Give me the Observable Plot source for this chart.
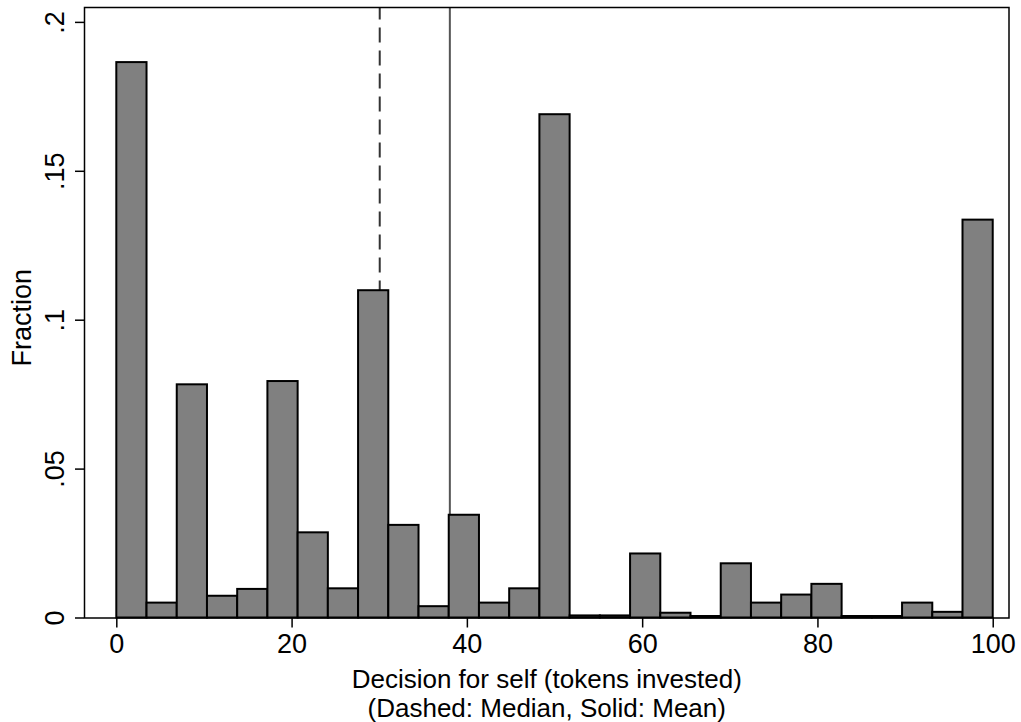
<!DOCTYPE html>
<html>
<head>
<meta charset="utf-8">
<script src="https://cdn.jsdelivr.net/npm/d3@7"></script>
<script src="https://cdn.jsdelivr.net/npm/@observablehq/plot@0.6"></script>
<style>
  html, body { margin: 0; padding: 0; background: #fff; }
  #chart svg { display: block; }
</style>
</head>
<body>
<div id="chart"></div>
<script>
// Histogram bin edges (tokens invested) and the fraction in each bin
const binEdges = [0, 3.448, 6.897, 10.345, 13.793, 17.241, 20.69, 24.138, 27.586, 31.034,
  34.483, 37.931, 41.379, 44.828, 48.276, 51.724, 55.172, 58.621, 62.069, 65.517,
  68.966, 72.414, 75.862, 79.31, 82.759, 86.207, 89.655, 93.103, 96.552, 100];
const fractions = [0.1865, 0.0050, 0.0783, 0.0073, 0.0096, 0.0794, 0.0286, 0.0098, 0.1099, 0.0311,
  0.0038, 0.0345, 0.0050, 0.0098, 0.1690, 0.0007, 0.0007, 0.0215, 0.0016, 0.0005,
  0.0182, 0.0050, 0.0077, 0.0113, 0.0005, 0.0005, 0.0050, 0.0019, 0.1336];
const medianValue = 30;
const meanValue = 38;
const xTicks = [0, 20, 40, 60, 80, 100];
const yTicks = [0, 0.05, 0.1, 0.15, 0.2];
const yTickLabels = ["0", ".05", ".1", ".15", ".2"];
const xTitle = "Decision for self (tokens invested)";
const xSubtitle = "(Dashed: Median, Solid: Mean)";
const yTitle = "Fraction";

const bins = fractions.map((f, i) => ({x1: binEdges[i], x2: binEdges[i + 1], fraction: f}));
const yLabelData = yTicks.map((v, i) => ({y: v, label: yTickLabels[i]}));

const font = "'Liberation Sans', Arial, Helvetica, sans-serif";
const fs = 27;

const chart = Plot.plot({
  width: 1021,
  height: 722,
  marginLeft: 84,
  marginRight: 12.5,
  marginTop: 7,
  marginBottom: 104.5,
  style: {fontFamily: font, fontSize: fs + "px", background: "#fff", color: "#000"},
  x: {domain: [-3.686, 101.8], label: null},
  y: {domain: [0, 0.205], label: null},
  marks: [
    Plot.ruleX([medianValue], {y1: 0, y2: 0.205, stroke: "#333", strokeWidth: 2, strokeDasharray: "15,8"}),
    Plot.ruleX([meanValue], {y1: 0, y2: 0.205, stroke: "#555", strokeWidth: 2}),
    Plot.rectY(bins, {x1: "x1", x2: "x2", y: "fraction", fill: "#808080", stroke: "#000", strokeWidth: 2}),
    Plot.frame({stroke: "#000", strokeWidth: 1.5}),
    Plot.axisX(xTicks, {tickSize: 10, tickPadding: 6, fontSize: fs, label: null, stroke: "#000", strokeWidth: 1.5}),
    Plot.axisY(yTicks, {tickSize: 9, tickFormat: () => "", label: null, stroke: "#000", strokeWidth: 1.5}),
    Plot.text(yLabelData, {y: "y", text: "label", frameAnchor: "left", dx: -29, rotate: -90,
      textAnchor: "middle", lineAnchor: "middle", fontSize: fs, fill: "#000"}),
    Plot.text([yTitle], {frameAnchor: "left", dx: -62, dy: 5, rotate: -90,
      textAnchor: "middle", lineAnchor: "middle", fontSize: fs, fill: "#000"}),
    Plot.text([xTitle + "\n" + xSubtitle], {frameAnchor: "bottom", dy: 75.5, textAnchor: "middle",
      lineAnchor: "middle", lineHeight: 1.12, fontSize: 26, fill: "#000"})
  ]
});
document.getElementById("chart").appendChild(chart);
</script>
</body>
</html>
